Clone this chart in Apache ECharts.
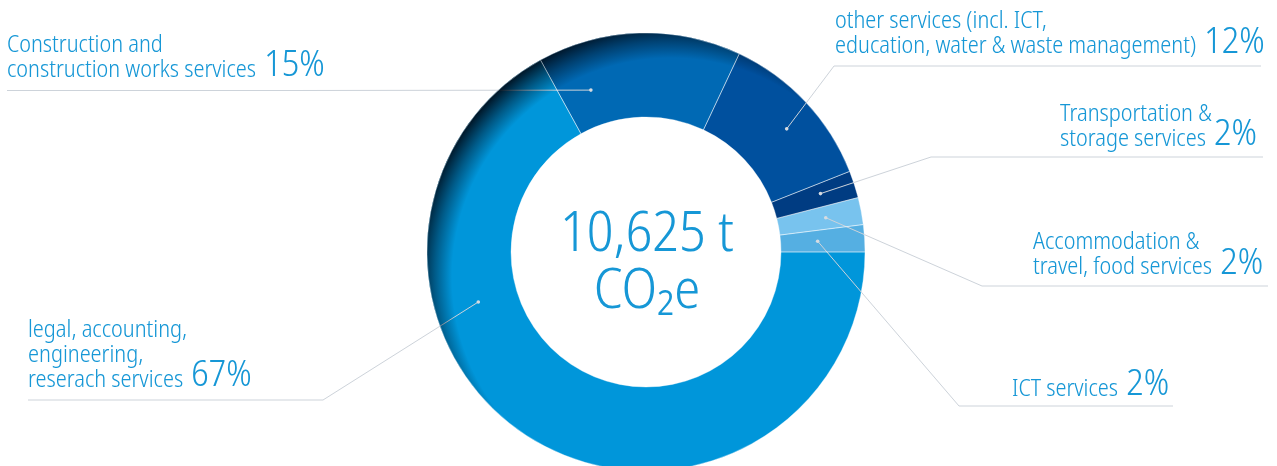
<!DOCTYPE html>
<html>
<head>
<meta charset="utf-8">
<script src="https://cdn.jsdelivr.net/npm/echarts@6/dist/echarts.min.js"></script>
<style>
  html, body { margin: 0; padding: 0; background: #ffffff; }
  #chart { width: 1277px; height: 466px; }
</style>
</head>
<body>
<div id="chart"></div>
<script>
// Emission categories, listed counter-clockwise from 3 o'clock
const categories = [
  'ICT services',
  'Accommodation &\ntravel, food services',
  'Transportation &\nstorage services',
  'other services (incl. ICT,\neducation, water & waste management)',
  'Construction and\nconstruction works services',
  'legal, accounting,\nengineering,\nreserach services'
];
const shares = [2, 2, 2, 12, 15, 67];
const sliceColors = ['#55afe2', '#78c3ee', '#003c82', '#00509e', '#0069b4', '#0096da'];
const totalValue = '10,625 t';
const totalUnit = 'CO\u2082e';

// Ring geometry
const CX = 646, CY = 252, R_IN = 135, R_OUT = 219;
const FAMILY = "'Noto Sans Display', 'Noto Sans', sans-serif";
const TEXT_BLUE = '#1697d6';
const GUIDE_GREY = '#cdd3da';

// Callout layout: text left edge, baseline of the last text line, underline height,
// elbow and far end of the underline, plus the anchor dot (radius, nudge from slice middle)
const placement = [
  { x: 1012, base: 396,   line: 406,   elbowX: 959, endX: 1173, r: 172, shift: 0 },
  { x: 1033, base: 274.5, line: 286,   elbowX: 982, endX: 1268, r: 183, shift: 0 },
  { x: 1060, base: 146,   line: 157,   elbowX: 931, endX: 1263, r: 184, shift: 0.5 },
  { x: 835,  base: 53.5,  line: 66,    elbowX: 834, endX: 1261, r: 187, shift: -2 },
  { x: 7,    base: 77,    line: 90.5,  elbowX: 300, endX: 7,    r: 171, shift: 17 },
  { x: 28,   base: 387,   line: 400,   elbowX: 323, endX: 28,   r: 175, shift: -42.8 }
];

const totalShare = shares.reduce((a, b) => a + b, 0);
function sliceMidAngle(k) {
  let before = 0;
  for (let i = 0; i < k; i++) before += shares[i];
  return (before + shares[k] / 2) / totalShare * 360;
}
function anchorPoint(k) {
  const p = placement[k];
  const a = (sliceMidAngle(k) + p.shift) * Math.PI / 180;
  return [CX + p.r * Math.cos(a), CY - p.r * Math.sin(a)];
}

const pieData = categories.map((name, i) => ({
  name: name,
  value: shares[i],
  itemStyle: { color: sliceColors[i] }
}));

// Shading that darkens the outer rim toward the upper left
const rimShade = {
  type: 'radial', x: CX + 25, y: CY + 25, r: 254, global: true,
  colorStops: [
    { offset: 0, color: 'rgba(0,18,36,0)' },
    { offset: 0.862, color: 'rgba(0,18,36,0)' },
    { offset: 0.93, color: 'rgba(0,18,36,0.45)' },
    { offset: 1, color: 'rgba(0,14,28,0.95)' }
  ]
};

// Text sizes; the canvas "middle" baseline of this face sits ~0.3em above the alphabetic one,
// so the big percentage gets a shorter token box that puts both on one baseline
const SMALL = 23.3, BIG = 36, LINE_H = 25, MID = 0.3;
const BIG_BOX_H = 2 * (LINE_H / 2 + MID * SMALL - MID * BIG);
const BASE_TO_BOTTOM = LINE_H - LINE_H / 2 - MID * SMALL;
const richText = {
  t: { fontFamily: FAMILY, fontStyle: 'condensed', fontWeight: 300, fontSize: SMALL,
       height: LINE_H, lineHeight: LINE_H, color: TEXT_BLUE, verticalAlign: 'top' },
  p: { fontFamily: FAMILY, fontStyle: 'condensed', fontWeight: 300, fontSize: BIG,
       height: BIG_BOX_H, lineHeight: BIG_BOX_H, color: TEXT_BLUE, verticalAlign: 'top',
       padding: [0, 0, 0, 3] }
};

const chart = echarts.init(document.getElementById('chart'), null, { renderer: 'canvas' });

chart.setOption({
  backgroundColor: '#ffffff',
  animation: false,
  series: [
    {
      type: 'pie',
      silent: true,
      center: [CX, CY],
      radius: [R_IN, R_OUT],
      startAngle: 0,
      clockwise: false,
      label: { show: false },
      labelLine: { show: false },
      emphasis: { disabled: true },
      data: pieData,
      z: 2
    },
    {
      type: 'pie',
      silent: true,
      center: [CX, CY],
      radius: [R_IN, R_OUT],
      startAngle: 0,
      clockwise: false,
      avoidLabelOverlap: false,
      emphasis: { disabled: true },
      itemStyle: {
        color: rimShade,
        borderColor: 'rgba(255,255,255,0.45)',
        borderWidth: 0.8
      },
      data: categories.map((name, i) => ({ name: name, value: shares[i] })),
      label: {
        show: true,
        position: 'outside',
        formatter: function (p) {
          const lines = p.name.split('\n');
          const last = lines.pop();
          let s = lines.map(l => '{t|' + l + '}').join('\n');
          if (lines.length) s += '\n';
          return s + '{t|' + last + ' }{p|' + p.value + '%}';
        },
        rich: richText
      },
      labelLine: {
        show: true,
        lineStyle: { color: GUIDE_GREY, width: 1 }
      },
      labelLayout: function (params) {
        const k = params.dataIndex;
        const p = placement[k];
        return {
          x: p.x,
          y: p.base + BASE_TO_BOTTOM,
          align: 'left',
          verticalAlign: 'bottom',
          labelLinePoints: [anchorPoint(k), [p.elbowX, p.line], [p.endX, p.line]]
        };
      },
      z: 3
    }
  ],
  graphic: [
    {
      type: 'text', x: CX + 1, y: 235, silent: true,
      style: { text: totalValue, fill: TEXT_BLUE, font: "condensed 300 55px " + FAMILY,
               align: 'center', verticalAlign: 'middle' }
    },
    {
      type: 'text', x: CX + 1, y: 292, silent: true,
      style: { text: totalUnit, fill: TEXT_BLUE, font: "condensed 300 55px " + FAMILY,
               align: 'center', verticalAlign: 'middle' }
    }
  ].concat(categories.map((c, k) => {
    const a = anchorPoint(k);
    return {
      type: 'circle', silent: true, z: 10,
      shape: { cx: a[0], cy: a[1], r: 1.8 },
      style: { fill: '#d6dbe1' }
    };
  }))
});
</script>
</body>
</html>
